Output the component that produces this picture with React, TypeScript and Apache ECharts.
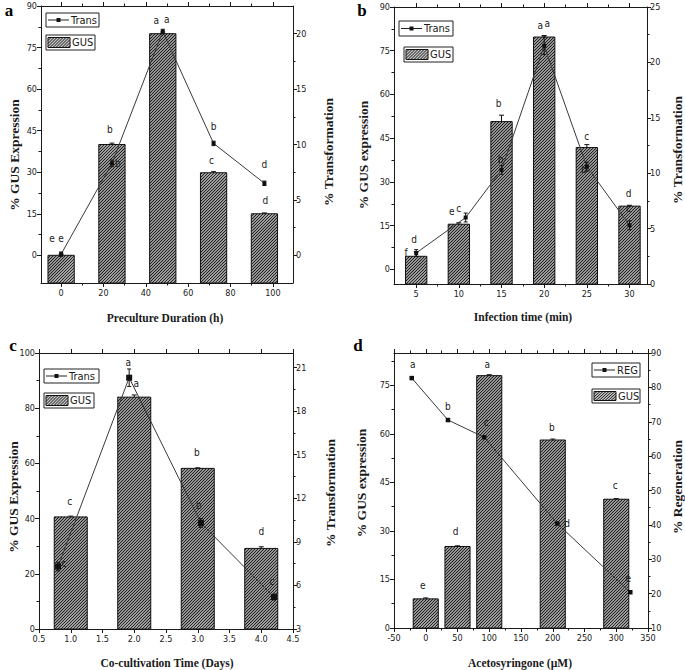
import React, { useEffect, useRef } from "react";
import * as echarts from "echarts";

// ---------------- Data ----------------
// Panel a: Preculture duration
const aX = [0, 24, 48, 72, 96];
const aGus = [0, 40, 80, 29.8, 15];
const aGusErr = [0.4, 0.5, 0.6, 0.4, 0.3];
const aTransX = [0, 24, 48, 72, 96];
const aTrans = [0.1, 8.3, 20.2, 10.1, 6.5];
const aTransErr = [0.2, 0.3, 0.2, 0.2, 0.2];
const aGusLetters = ["e", "b", "a", "c", "d"];
const aTransLetters = ["e", "b", "a", "b", "d"];
const aXTicks = [0, 20, 40, 60, 80, 100];
const aXMinor = [10, 30, 50, 70, 90];
const aYTicks = [0, 15, 30, 45, 60, 75, 90];
const aYMinor = [7.5, 22.5, 37.5, 52.5, 67.5, 82.5];
const aY2Ticks = [0, 5, 10, 15, 20];
const aY2Minor = [2.5, 7.5, 12.5, 17.5];

// Panel b: Infection time
const bX = [5, 10, 15, 20, 25, 30];
const bGus = [4.5, 15.5, 50.7, 79.7, 41.8, 21.7];
const bGusErr = [1.5, 0.5, 2.2, 0.5, 1.0, 0.3];
const bTransX = [5, 10.8, 15, 20, 25, 30];
const bTrans = [2.8, 6.0, 10.3, 21.5, 10.6, 5.3];
const bTransErr = [0.3, 0.4, 0.4, 0.8, 0.4, 0.4];
const bGusLetters = ["f", "e", "b", "a", "c", "d"];
const bTransLetters = ["d", "c", "b", "a", "b", "c"];
const bXTicks = [5, 10, 15, 20, 25, 30];
const bXMinor = [7.5, 12.5, 17.5, 22.5, 27.5];
const bYTicks = [0, 15, 30, 45, 60, 75, 90];
const bYMinor = [7.5, 22.5, 37.5, 52.5, 67.5, 82.5];
const bY2Ticks = [0, 5, 10, 15, 20, 25];
const bY2Minor = [2.5, 7.5, 12.5, 17.5, 22.5];

// Panel c: Co-cultivation time
const cX = [1, 2, 3, 4];
const cGus = [40.6, 84, 58.2, 29.2];
const cGusErr = [0.3, 0.8, 0.2, 0.6];
const cTransX = [0.8, 1.92, 3.05, 4.2];
const cTrans = [7.3, 20.3, 10.3, 5.2];
const cTransErr = [0.3, 0.6, 0.3, 0.2];
const cGusLetters = ["c", "a", "b", "d"];
const cTransLetters = ["c", "a", "b", "c"];
const cXTicks = [0.5, 1, 1.5, 2, 2.5, 3, 3.5, 4, 4.5];
const cXMinor: number[] = [];
const cYTicks = [0, 20, 40, 60, 80, 100];
const cYMinor = [10, 30, 50, 70, 90];
const cY2Ticks = [3, 6, 9, 12, 15, 18, 21];
const cY2Minor = [4.5, 7.5, 10.5, 13.5, 16.5, 19.5];

// Panel d: Acetosyringone
const dX = [0, 50, 100, 200, 300];
const dGus = [9, 25.2, 78, 58.1, 39.8];
const dGusErr = [0.3, 0.2, 0.3, 0.3, 0.2];
const dRegX = [-22, 35, 92, 207, 322];
const dReg = [82.7, 70.5, 65.5, 40.4, 20.4];
const dRegErr = [0.3, 0.3, 0.4, 0.3, 0.3];
const dGusLetters = ["e", "d", "a", "b", "c"];
const dRegLetters = ["a", "b", "c", "d", "e"];
const dXTicks = [-50, 0, 50, 100, 150, 200, 250, 300, 350];
const dXMinor = [-25, 25, 75, 125, 175, 225, 275, 325];
const dYTicks = [0, 15, 30, 45, 60, 75];
const dYMinor = [7.5, 22.5, 37.5, 52.5, 67.5, 82.5];
const dY2Ticks = [10, 20, 30, 40, 50, 60, 70, 80, 90];
const dY2Minor = [15, 25, 35, 45, 55, 65, 75, 85];

// ---------------- Layout / style ----------------
const NARROW = "'Liberation Sans Narrow', 'DejaVu Sans Condensed', 'Liberation Sans', sans-serif";
const SERIF = "'Liberation Serif', 'DejaVu Serif', serif";
const INK = "#1a1a1a";
const BAR_BG = "#c4c4c4";
const HATCH = "#161616";

const panels = [
  {
    grid: { left: 41, top: 6, width: 252, height: 277 },
    xMin: -9.5, xMax: 109.5, yMin: -10, yMax: 90, y2Min: -2.5, y2Max: 22.5, barW: 12.4,
    x: aX, gus: aGus, gusErr: aGusErr, tx: aTransX, tr: aTrans, trErr: aTransErr,
    gl: aGusLetters, tl: aTransLetters,
    gOff: [[-9, -17], [-2, -15], [-6.5, -13], [-2, -12], [1, -13]],
    tOff: [[0, -16], [6, 0], [4, -12], [0, -17], [0, -19]],
    xT: aXTicks, xM: aXMinor, yT: aYTicks, yM: aYMinor, y2T: aY2Ticks, y2M: aY2Minor,
    fmt: (v: number) => String(v), sym: 4,
    leg: { label: "Trans", t: [46, 13, 53, 14], g: [46, 35, 49, 15] },
    letter: { text: "a", x: 9, y: 10 },
    titles: [
      { text: "% GUS Expression", x: 14, y: 155, rot: true },
      { text: "% Transformation", x: 328, y: 152, rot: true },
      { text: "Preculture Duration (h)", x: 165, y: 318, rot: false },
    ],
  },
  {
    grid: { left: 394, top: 7, width: 253, height: 277 },
    xMin: 2.4, xMax: 32.05, yMin: -5, yMax: 90, y2Min: 0, y2Max: 25, barW: 2.5,
    x: bX, gus: bGus, gusErr: bGusErr, tx: bTransX, tr: bTrans, trErr: bTransErr,
    gl: bGusLetters, tl: bTransLetters,
    gOff: [[-10, -4], [-7, -13], [-3, -18], [-4, -12], [0, -11], [-1, -13]],
    tOff: [[-2, -13], [-7, -9], [-1, -10], [3, -22], [-3, 3], [-1, -17]],
    xT: bXTicks, xM: bXMinor, yT: bYTicks, yM: bYMinor, y2T: bY2Ticks, y2M: bY2Minor,
    fmt: (v: number) => String(v), sym: 4,
    leg: { label: "Trans", t: [399, 21, 54, 15], g: [404, 47, 49, 15] },
    letter: { text: "b", x: 362, y: 10 },
    titles: [
      { text: "% GUS expression", x: 363, y: 155, rot: true },
      { text: "% Transformation", x: 677, y: 150, rot: true },
      { text: "Infection time (min)", x: 523, y: 317, rot: false },
    ],
  },
  {
    grid: { left: 39, top: 353, width: 254, height: 276 },
    xMin: 0.5, xMax: 4.5, yMin: 0, yMax: 100, y2Min: 3, y2Max: 22, barW: 0.52,
    x: cX, gus: cGus, gusErr: cGusErr, tx: cTransX, tr: cTrans, trErr: cTransErr,
    gl: cGusLetters, tl: cTransLetters,
    gOff: [[-1, -15], [2, -14], [-1, -16], [0, -17]],
    tOff: [[6, -3], [-1, -15], [-2, -17], [-2, -16]],
    xT: cXTicks, xM: cXMinor, yT: cYTicks, yM: cYMinor, y2T: cY2Ticks, y2M: cY2Minor,
    fmt: (v: number) => v.toFixed(1), sym: 6,
    leg: { label: "Trans", t: [44, 369, 55, 14], g: [44, 393, 50, 15] },
    letter: { text: "c", x: 13, y: 345 },
    titles: [
      { text: "% GUS Expression", x: 13, y: 497, rot: true },
      { text: "% Transformation", x: 330, y: 493, rot: true },
      { text: "Co-cultivation Time (Days)", x: 167, y: 663, rot: false },
    ],
  },
  {
    grid: { left: 394, top: 353, width: 254, height: 275 },
    xMin: -50, xMax: 350, yMin: 0, yMax: 85, y2Min: 10, y2Max: 90, barW: 39.5,
    x: dX, gus: dGus, gusErr: dGusErr, tx: dRegX, tr: dReg, trErr: dRegErr,
    gl: dGusLetters, tl: dRegLetters,
    gOff: [[-3, -13], [-2, -15], [-2, -11], [-1, -13], [-1, -14]],
    tOff: [[1, -14], [0, -14], [2, -15], [10, 0], [-2, -14]],
    xT: dXTicks, xM: dXMinor, yT: dYTicks, yM: dYMinor, y2T: dY2Ticks, y2M: dY2Minor,
    fmt: (v: number) => String(v), sym: 4.5,
    leg: { label: "REG", t: [592, 363, 48, 14], g: [592, 389, 48, 14] },
    letter: { text: "d", x: 358, y: 345 },
    titles: [
      { text: "% GUS expression", x: 361, y: 483, rot: true },
      { text: "% Regeneration", x: 677, y: 487, rot: true },
      { text: "Acetosyringone (µM)", x: 520, y: 663, rot: false },
    ],
  },
];

function hatchPath(x0: number, y0: number, x1: number, y1: number, s: number) {
  let d = "";
  const cStart = Math.ceil((x0 + y0) / s) * s;
  for (let c = cStart; c <= x1 + y1; c += s) {
    const xs = Math.max(x0, c - y1);
    const xe = Math.min(x1, c - y0);
    if (xe - xs > 0.3) {
      d += `M${xs.toFixed(2)} ${(c - xs).toFixed(2)}L${xe.toFixed(2)} ${(c - xe).toFixed(2)}`;
    }
  }
  return d;
}

let swatchRegistered = false;
function registerSwatch() {
  if (swatchRegistered) return;
  swatchRegistered = true;
  const d = hatchPath(0, 0, 22, 10, 3);
  echarts.graphic.registerShape("hatchSwatch", echarts.graphic.extendPath(d, {}) as any);
}

function buildOption() {
  const xAxis: any[] = [];
  const yAxis: any[] = [];
  const grid: any[] = [];
  const series: any[] = [];
  const graphic: any[] = [];
  const line = { color: INK, width: 1 };
  const lbl = { fontFamily: NARROW, fontSize: 9, color: INK };

  panels.forEach((p, i) => {
    grid.push({ ...p.grid, containLabel: false });
    const baseX = { type: "value", gridIndex: i, min: p.xMin, max: p.xMax, splitLine: { show: false } };
    xAxis.push({
      ...baseX, position: "bottom",
      axisLine: { show: true, onZero: false, lineStyle: line },
      axisTick: { show: true, length: 4, customValues: p.xT, lineStyle: line },
      axisLabel: { show: true, customValues: p.xT, margin: 5, formatter: p.fmt, ...lbl },
    });
    xAxis.push({
      ...baseX, position: "bottom",
      axisLine: { show: false, onZero: false },
      axisTick: { show: p.xM.length > 0, length: 2.5, customValues: p.xM.length ? p.xM : [p.xMin], lineStyle: line },
      axisLabel: { show: false },
    });
    xAxis.push({
      ...baseX, position: "top",
      axisLine: { show: true, onZero: false, lineStyle: line },
      axisTick: { show: true, length: 4, customValues: p.xT, lineStyle: line },
      axisLabel: { show: false },
    });
    xAxis.push({
      ...baseX, position: "top",
      axisLine: { show: false, onZero: false },
      axisTick: { show: p.xM.length > 0, length: 2.5, customValues: p.xM.length ? p.xM : [p.xMin], lineStyle: line },
      axisLabel: { show: false },
    });
    const baseY = { type: "value", gridIndex: i, splitLine: { show: false } };
    yAxis.push({
      ...baseY, min: p.yMin, max: p.yMax, position: "left",
      axisLine: { show: true, onZero: false, lineStyle: line },
      axisTick: { show: true, length: 4, customValues: p.yT, lineStyle: line },
      axisLabel: { show: true, customValues: p.yT, margin: 4, ...lbl },
    });
    yAxis.push({
      ...baseY, min: p.yMin, max: p.yMax, position: "left",
      axisLine: { show: false, onZero: false },
      axisTick: { show: true, length: 2.5, customValues: p.yM, lineStyle: line },
      axisLabel: { show: false },
    });
    yAxis.push({
      ...baseY, min: p.y2Min, max: p.y2Max, position: "right",
      axisLine: { show: true, onZero: false, lineStyle: line },
      axisTick: { show: true, length: 4, customValues: p.y2T, lineStyle: line },
      axisLabel: { show: true, customValues: p.y2T, margin: 3, ...lbl },
    });
    yAxis.push({
      ...baseY, min: p.y2Min, max: p.y2Max, position: "right",
      axisLine: { show: false, onZero: false },
      axisTick: { show: true, length: 2.5, customValues: p.y2M, lineStyle: line },
      axisLabel: { show: false },
    });

    const xi = i * 4;
    const yi = i * 4;
    const y2i = i * 4 + 2;

    // Bars (hatched) with error bars
    series.push({
      type: "custom",
      name: "GUS",
      xAxisIndex: xi,
      yAxisIndex: yi,
      z: 2,
      data: p.x.map((xv, k) => [xv, p.gus[k], p.gusErr[k]]),
      renderItem: (params: any, api: any) => {
        const xv = api.value(0);
        const v = api.value(1);
        const e = api.value(2);
        const top = api.coord([xv, v]);
        const bot = api.coord([xv, p.yMin]);
        const w = api.size([p.barW, 0])[0];
        const x0 = top[0] - w / 2;
        const x1 = top[0] + w / 2;
        const y0 = top[1];
        const y1 = bot[1];
        const et = api.coord([xv, v + e]);
        const children: any[] = [
          { type: "rect", shape: { x: x0, y: y0, width: w, height: y1 - y0 }, style: { fill: BAR_BG, stroke: "none" } },
          { type: "path", shape: { pathData: hatchPath(x0, y0, x1, y1, 3) }, style: { fill: "none", stroke: HATCH, lineWidth: 1.05 } },
          { type: "rect", shape: { x: x0, y: y0, width: w, height: y1 - y0 }, style: { fill: "none", stroke: "#111", lineWidth: 1 } },
        ];
        if (e > 0) {
          children.push({ type: "line", shape: { x1: top[0], y1: y0, x2: top[0], y2: et[1] }, style: { stroke: "#111", lineWidth: 1 } });
          children.push({ type: "line", shape: { x1: top[0] - 2.5, y1: et[1], x2: top[0] + 2.5, y2: et[1] }, style: { stroke: "#111", lineWidth: 1 } });
        }
        return { type: "group", children };
      },
    });

    // Line (Trans / REG)
    series.push({
      type: "line",
      name: p.leg.label,
      xAxisIndex: xi,
      yAxisIndex: y2i,
      z: 5,
      data: p.tx.map((xv, k) => [xv, p.tr[k]]),
      symbol: "rect",
      symbolSize: p.sym,
      itemStyle: { color: "#111" },
      lineStyle: { color: "#3a3a3a", width: 1 },
    });

    // Line error bars
    series.push({
      type: "custom",
      xAxisIndex: xi,
      yAxisIndex: y2i,
      z: 6,
      data: p.tx.map((xv, k) => [xv, p.tr[k], p.trErr[k]]),
      renderItem: (params: any, api: any) => {
        const xv = api.value(0);
        const v = api.value(1);
        const e = api.value(2);
        const a = api.coord([xv, v - e]);
        const b = api.coord([xv, v + e]);
        return {
          type: "group",
          children: [
            { type: "line", shape: { x1: a[0], y1: a[1], x2: b[0], y2: b[1] }, style: { stroke: "#111", lineWidth: 1 } },
            { type: "line", shape: { x1: b[0] - 2, y1: b[1], x2: b[0] + 2, y2: b[1] }, style: { stroke: "#111", lineWidth: 1 } },
            { type: "line", shape: { x1: a[0] - 2, y1: a[1], x2: a[0] + 2, y2: a[1] }, style: { stroke: "#111", lineWidth: 1 } },
          ],
        };
      },
    });

    // Letters for bars
    series.push({
      type: "custom",
      xAxisIndex: xi,
      yAxisIndex: yi,
      z: 7,
      data: p.x.map((xv, k) => [xv, p.gus[k], k]),
      renderItem: (params: any, api: any) => {
        const k = api.value(2);
        const pt = api.coord([api.value(0), api.value(1)]);
        const off = p.gOff[k];
        return {
          type: "text",
          x: pt[0] + off[0],
          y: pt[1] + off[1],
          style: { text: p.gl[k], align: "center", verticalAlign: "middle", fontFamily: NARROW, fontSize: 10, fill: INK },
        };
      },
    });

    // Letters for line points
    series.push({
      type: "custom",
      xAxisIndex: xi,
      yAxisIndex: y2i,
      z: 7,
      data: p.tx.map((xv, k) => [xv, p.tr[k], k]),
      renderItem: (params: any, api: any) => {
        const k = api.value(2);
        const pt = api.coord([api.value(0), api.value(1)]);
        const off = p.tOff[k];
        return {
          type: "text",
          x: pt[0] + off[0],
          y: pt[1] + off[1],
          style: { text: p.tl[k], align: "center", verticalAlign: "middle", fontFamily: NARROW, fontSize: 10, fill: INK },
        };
      },
    });

    // Legend boxes
    const [tx, ty, tw, th] = p.leg.t;
    graphic.push({
      type: "group",
      children: [
        { type: "rect", shape: { x: tx, y: ty, width: tw, height: th }, style: { fill: "#fff", stroke: "#222", lineWidth: 1 }, z: 10 },
        { type: "line", shape: { x1: tx + 2, y1: ty + th / 2, x2: tx + 23, y2: ty + th / 2 }, style: { stroke: "#222", lineWidth: 1 }, z: 11 },
        { type: "rect", shape: { x: tx + 10.5, y: ty + th / 2 - 2, width: 4, height: 4 }, style: { fill: "#111" }, z: 11 },
        { type: "text", x: tx + 25, y: ty + th / 2, style: { text: p.leg.label, fontFamily: NARROW, fontSize: 11, fill: INK, align: "left", verticalAlign: "middle" }, z: 11 },
      ],
    });
    const [gx, gy, gw, gh] = p.leg.g;
    graphic.push({
      type: "group",
      children: [
        { type: "rect", shape: { x: gx, y: gy, width: gw, height: gh }, style: { fill: "#fff", stroke: "#222", lineWidth: 1 }, z: 10 },
        { type: "rect", shape: { x: gx + 2, y: gy + 2.5, width: 22, height: gh - 5 }, style: { fill: BAR_BG, stroke: "none" }, z: 11 },
        { type: "hatchSwatch", x: gx + 2, y: gy + 2.5, scaleX: 1, scaleY: (gh - 5) / 10, style: { fill: "none", stroke: HATCH, lineWidth: 1 }, z: 12 },
        { type: "rect", shape: { x: gx + 2, y: gy + 2.5, width: 22, height: gh - 5 }, style: { fill: "none", stroke: "#111", lineWidth: 1 }, z: 13 },
        { type: "text", x: gx + 26, y: gy + gh / 2, style: { text: "GUS", fontFamily: NARROW, fontSize: 11, fill: INK, align: "left", verticalAlign: "middle" }, z: 13 },
      ],
    });

    // Panel letter
    graphic.push({
      type: "text", x: p.letter.x, y: p.letter.y,
      style: { text: p.letter.text, fontFamily: SERIF, fontWeight: "bold", fontSize: 17, fill: "#000", align: "center", verticalAlign: "middle" },
    });

    // Axis titles
    p.titles.forEach((t) => {
      graphic.push({
        type: "text", x: t.x, y: t.y, rotation: t.rot ? Math.PI / 2 : 0,
        style: { text: t.text, fontFamily: SERIF, fontWeight: "bold", fontSize: t.rot ? 13.5 : 11.5, fill: INK, align: "center", verticalAlign: "middle" },
      });
    });
  });

  return { animation: false, backgroundColor: "#fff", grid, xAxis, yAxis, series, graphic };
}

export default function App() {
  const ref = useRef<HTMLDivElement>(null);
  useEffect(() => {
    document.body.style.margin = "0";
    registerSwatch();
    const chart = echarts.init(ref.current!, undefined, { renderer: "svg" });
    chart.setOption(buildOption() as any);
    return () => chart.dispose();
  }, []);
  return <div ref={ref} style={{ width: 685, height: 670 }} />;
}
